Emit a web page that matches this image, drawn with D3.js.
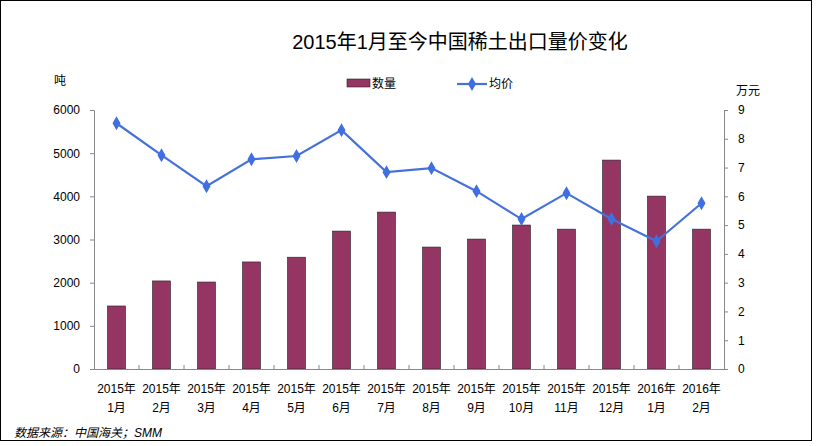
<!DOCTYPE html>
<html><head><meta charset="utf-8">
<script src="https://cdn.jsdelivr.net/npm/d3@7"></script>
<style>body{margin:0;background:#fff}</style></head>
<body><svg id="chart" width="816" height="446"></svg>
<script>
const months = ["2015年|1月","2015年|2月","2015年|3月","2015年|4月","2015年|5月","2015年|6月","2015年|7月","2015年|8月","2015年|9月","2015年|10月","2015年|11月","2015年|12月","2016年|1月","2016年|2月"];
const volume = [1460,2040,2015,2480,2590,3195,3635,2825,3010,3335,3240,4840,4005,3240];
const price = [8.54,7.43,6.35,7.29,7.40,8.30,6.84,6.98,6.18,5.21,6.11,5.21,4.44,5.76];
const volTicks = [0,1000,2000,3000,4000,5000,6000];
const priceTicks = [0,1,2,3,4,5,6,7,8,9];

const svg = d3.select("#chart");
const font = "'Liberation Sans', 'Noto Sans CJK SC', sans-serif";
svg.append("rect").attr("x",0.5).attr("y",0.5).attr("width",811).attr("height",440)
  .attr("fill","#fff").attr("stroke","#000");

const x0 = 94, x1 = 724, yTop = 110, yBot = 369;
const x = d3.scaleBand().domain(months).range([x0, x1]);
const yL = d3.scaleLinear().domain([0, 6000]).range([yBot, yTop]);
const yR = d3.scaleLinear().domain([0, 9]).range([yBot, yTop]);

svg.append("text").attr("x", 460).attr("y", 49).attr("text-anchor","middle")
  .attr("font-family", font).attr("font-size", 20).text("2015年1月至今中国稀土出口量价变化");

svg.selectAll(".bar").data(volume).enter().append("rect")
  .attr("x", (d,i) => x(months[i]) + x.bandwidth()/2 - 9)
  .attr("y", d => yL(d)).attr("width", 18).attr("height", d => yBot - yL(d))
  .attr("fill", "#953563").attr("stroke", "#222").attr("stroke-width", 0.6);

const line = d3.line().x((d,i) => x(months[i]) + x.bandwidth()/2).y(d => yR(d));
svg.append("path").datum(price).attr("d", line).attr("fill","none")
  .attr("stroke","#4472d8").attr("stroke-width",2.2);
svg.selectAll(".pt").data(price).enter().append("path")
  .attr("d", d3.symbol(d3.symbolDiamond, 56))
  .attr("transform", (d,i) => `translate(${x(months[i]) + x.bandwidth()/2},${yR(d)})`)
  .attr("fill","#3f6fe0");

function style(g){
  g.selectAll("text").attr("font-family", font).attr("font-size", 12).attr("fill","#000");
  g.select(".domain").attr("stroke","#888");
  g.selectAll(".tick line").attr("stroke","#888");
}
svg.append("g").attr("transform", `translate(${x0},0)`)
  .call(d3.axisLeft(yL).tickValues(volTicks).tickSize(4).tickPadding(10).tickFormat(d3.format("d")))
  .call(style);
svg.append("g").attr("transform", `translate(${x1},0)`)
  .call(d3.axisRight(yR).tickValues(priceTicks).tickSize(4).tickPadding(10))
  .call(style);
const gx = svg.append("g").attr("transform", `translate(0,${yBot})`)
  .call(d3.axisBottom(x).tickSize(0).tickFormat(""));
gx.select(".domain").attr("stroke","#888");
gx.selectAll(".sep").data(months.slice(1)).enter().append("line")
  .attr("x1", d => x(d)).attr("x2", d => x(d)).attr("y1", 0).attr("y2", -4).attr("stroke","#888");
months.forEach(m => {
  const [a,b] = m.split("|");
  const cx = x(m) + x.bandwidth()/2;
  const t = gx.append("text").attr("text-anchor","middle").attr("font-family",font).attr("font-size",12)
    .attr("fill","#000");
  t.append("tspan").attr("x", cx).attr("y", 24).text(a);
  t.append("tspan").attr("x", cx).attr("y", 43).text(b);
});

svg.append("text").attr("x",54).attr("y",85).attr("font-family",font).attr("font-size",12).text("吨");
svg.append("text").attr("x",736).attr("y",95).attr("font-family",font).attr("font-size",12).text("万元");

svg.append("rect").attr("x",347).attr("y",79).attr("width",23).attr("height",8).attr("fill","#953563").attr("stroke","#222").attr("stroke-width",0.6);
svg.append("text").attr("x",372).attr("y",88).attr("font-family",font).attr("font-size",12).text("数量");
svg.append("line").attr("x1",457).attr("x2",487).attr("y1",84).attr("y2",84).attr("stroke","#4472d8").attr("stroke-width",2.2);
svg.append("path").attr("d", d3.symbol(d3.symbolDiamond, 56)).attr("transform","translate(472,84)").attr("fill","#3f6fe0");
svg.append("text").attr("x",489).attr("y",88).attr("font-family",font).attr("font-size",12).text("均价");

svg.append("text").attr("x",14).attr("y",437).attr("font-family",font).attr("font-size",12)
  .attr("font-style","italic").text("数据来源：中国海关；SMM");
</script></body></html>
